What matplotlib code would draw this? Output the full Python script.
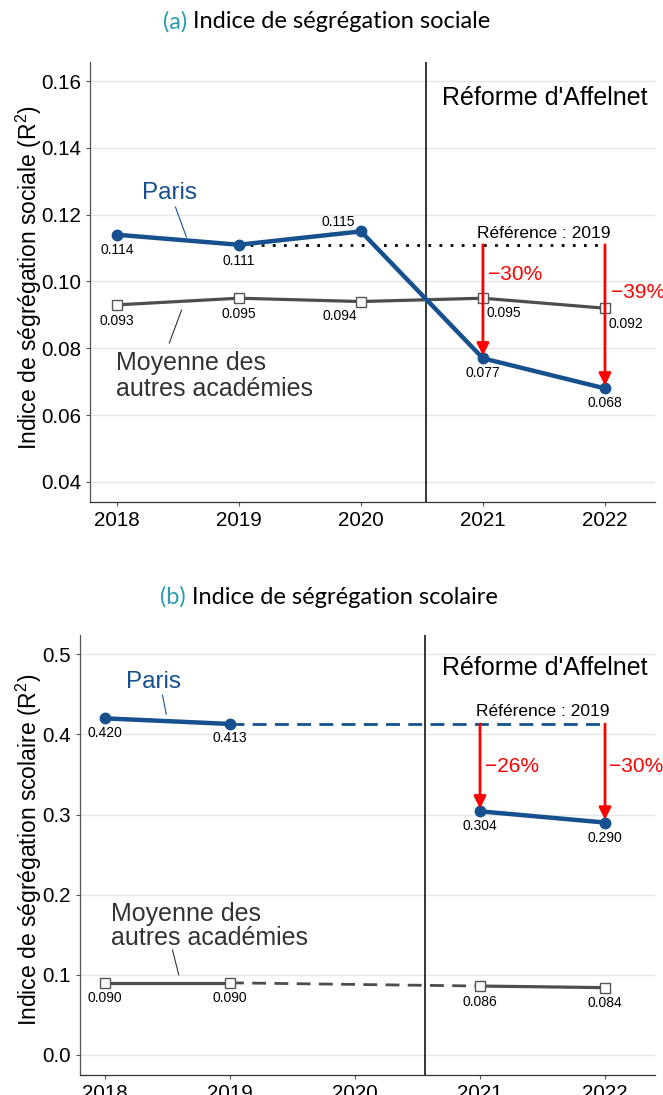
import matplotlib
matplotlib.use("Agg")
import matplotlib.pyplot as plt

plt.rcParams["font.family"] = ["Liberation Sans", "DejaVu Sans"]
plt.rcParams["mathtext.fontset"] = "custom"
plt.rcParams["mathtext.rm"] = "Liberation Sans"
plt.rcParams["mathtext.it"] = "Liberation Sans:italic"

# data
years = [2018, 2019, 2020, 2021, 2022]
paris_social = [0.114, 0.111, 0.115, 0.077, 0.068]
autres_social = [0.093, 0.095, 0.094, 0.095, 0.092]
years_scol = [2018, 2019, 2021, 2022]
paris_scol = [0.420, 0.413, 0.304, 0.290]
autres_scol = [0.090, 0.090, 0.086, 0.084]
pct_social = ["\u221230%", "\u221239%"]
pct_scol = ["\u221226%", "\u221230%"]

BLUE = "#16508f"
GREY = "#4d4d4d"
TEAL = "#2a9db0"

fig = plt.figure(figsize=(6.63, 10.95), dpi=100)
ax1 = fig.add_axes([90 / 663, 1 - 502 / 1095, 565 / 663, 440 / 1095])
ax2 = fig.add_axes([80 / 663, 1 - 1075 / 1095, 575 / 663, 440 / 1095])

def style(ax, yticks, fmt):
    ax.set_yticks(yticks)
    ax.set_yticklabels([fmt.format(v) for v in yticks])
    ax.set_xticks(years)
    ax.grid(axis="y", color="#e6e6e6", lw=1)
    ax.set_axisbelow(True)
    for s in ["top", "right"]:
        ax.spines[s].set_visible(False)
    ax.spines["left"].set_color("#555555")
    ax.spines["bottom"].set_color("#333333")
    for s in ["left", "bottom"]:
        ax.spines[s].set_linewidth(0.9)
    ax.tick_params(labelsize=14.8, length=3, color="#555555", labelcolor="black")

def lab(ax, x, y, txt, dx, dy):
    ax.annotate(txt, (x, y), xytext=(dx * 0.72, dy * 0.72), textcoords="offset points",
                ha="center", va="center", fontsize=10)

def arrows(ax, xs, ys, ref):
    for x, y in zip(xs, ys):
        ax.annotate("", xy=(x, y), xytext=(x, ref),
                    arrowprops=dict(arrowstyle="-|>", color="red", lw=2, mutation_scale=18,
                                    shrinkA=0, shrinkB=2), zorder=5)

# ---------------- (a) ----------------
ax = ax1
ax.set_xlim(2017.78, 2022.41)
ax.set_ylim(0.034, 0.1657)
style(ax, [0.04, 0.06, 0.08, 0.10, 0.12, 0.14, 0.16], "{:.2f}")
ax.axvline(2020.53, color="black", lw=1.1)
ax.plot(years, autres_social, color=GREY, lw=2.3, marker="s", ms=7.5, mfc="white",
        mec="#555555", mew=1, zorder=3)
ax.plot(years, paris_social, color=BLUE, lw=3.2, marker="o", ms=7.5, zorder=4)
ax.plot([years[1], years[4]], [paris_social[1]] * 2, color="black", lw=2, ls=(0, (1, 3)), zorder=2)
arrows(ax, years[3:], paris_social[3:], paris_social[1])
ax.text(2021.26, 0.1022, pct_social[0], color="red", fontsize=15, ha="center", va="center")
ax.text(2022.27, 0.0968, pct_social[1], color="red", fontsize=15, ha="center", va="center")
ax.text(2021.5, 0.1145, "Référence : 2019", fontsize=12.5, ha="center", va="center")
ax.text(2021.51, 0.1549, "Réforme d'Affelnet", fontsize=18, ha="center", va="center")

p_off = [(0, -15), (0, -16), (-23, 9), (0, -15), (0, -15)]
a_off = [(0, -16), (0, -16), (-21, -14), (21, -15), (21, -16)]
for x, y, o in zip(years, paris_social, p_off):
    lab(ax, x, y, f"{y:.3f}", *o)
for x, y, o in zip(years, autres_social, a_off):
    lab(ax, x, y, f"{y:.3f}", *o)

ax.text(2018.43, 0.1265, "Paris", color=BLUE, fontsize=17.5, ha="center", va="center")
ax.plot([2018.48, 2018.57], [0.1223, 0.1133], color=BLUE, lw=0.8)
ax.text(2017.99, 0.0717, "Moyenne des\nautres académies", color="#333333", fontsize=18,
        ha="left", va="center", linespacing=1.12)
ax.plot([2018.53, 2018.43], [0.0914, 0.0816], color="#333333", lw=0.8)

# ---------------- (b) ----------------
ax = ax2
ax.set_xlim(2017.8, 2022.4)
ax.set_ylim(-0.025, 0.524)
style(ax, [0.0, 0.1, 0.2, 0.3, 0.4, 0.5], "{:.1f}")
ax.axvline(2020.56, color="black", lw=1.1)
for sl in (slice(0, 2), slice(2, 4)):
    ax.plot(years_scol[sl], autres_scol[sl], color=GREY, lw=2.3, marker="s", ms=7.5,
            mfc="white", mec="#555555", mew=1, zorder=3)
    ax.plot(years_scol[sl], paris_scol[sl], color=BLUE, lw=3.2, marker="o", ms=7.5, zorder=4)
ax.plot(years_scol[1:3], autres_scol[1:3], color=GREY, lw=2, ls=(0, (5, 3)), zorder=2)
ax.plot([years_scol[1], years_scol[3]], [paris_scol[1]] * 2, color=BLUE, lw=2,
        ls=(0, (5, 3)), zorder=2)
arrows(ax, years_scol[2:], paris_scol[2:], paris_scol[1])
ax.text(2021.26, 0.3603, pct_scol[0], color="red", fontsize=15, ha="center", va="center")
ax.text(2022.25, 0.3603, pct_scol[1], color="red", fontsize=15, ha="center", va="center")
ax.text(2021.5, 0.4289, "Référence : 2019", fontsize=12.5, ha="center", va="center")
ax.text(2021.52, 0.4825, "Réforme d'Affelnet", fontsize=18, ha="center", va="center")

p_off = [(0, -15), (0, -14), (0, -15), (0, -15)]
a_off = [(0, -15), (0, -15), (0, -16), (0, -15)]
for x, y, o in zip(years_scol, paris_scol, p_off):
    lab(ax, x, y, f"{y:.3f}", *o)
for x, y, o in zip(years_scol, autres_scol, a_off):
    lab(ax, x, y, f"{y:.3f}", *o)

ax.text(2018.39, 0.465, "Paris", color=BLUE, fontsize=17.5, ha="center", va="center")
ax.plot([2018.46, 2018.49], [0.4489, 0.4252], color=BLUE, lw=0.8)
ax.text(2018.05, 0.161, "Moyenne des\nautres académies", color="#333333", fontsize=18,
        ha="left", va="center", linespacing=1.03)
ax.plot([2018.54, 2018.59], [0.131, 0.100], color="#333333", lw=0.8)

# y labels
fig.text(29 / 663, 1 - 278 / 1095, "Indice de ségrégation sociale (R$^2$)", rotation=90,
         ha="center", va="center", fontsize=16.5)
fig.text(29 / 663, 1 - 850 / 1095, "Indice de ségrégation scolaire (R$^2$)", rotation=90,
         ha="center", va="center", fontsize=16.5)

# titles
def title(x, y, tag, rest):
    t1 = fig.text(x, y, tag, color=TEAL, fontsize=17, family="Lato", ha="left", va="center")
    ax1.annotate(" " + rest, xy=(1, 0.5), xycoords=t1, ha="left", va="center",
                 fontsize=17, family="Lato", color="black", annotation_clip=False)

title(163 / 663, 1 - 22 / 1095, "(a)", "Indice de ségrégation sociale")
title(160 / 663, 1 - 597 / 1095, "(b)", "Indice de ségrégation scolaire")

fig.savefig("out.png", dpi=100)
